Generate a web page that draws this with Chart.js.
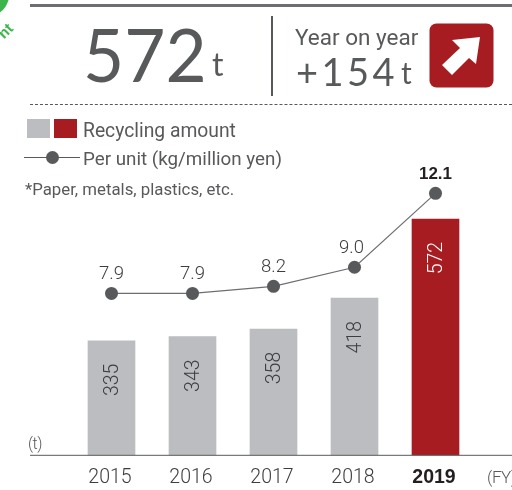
<!DOCTYPE html>
<html><head><meta charset="utf-8">
<script src="https://cdn.jsdelivr.net/npm/chart.js@4/dist/chart.umd.min.js"></script>
<style>
html,body{margin:0;padding:0;background:#fff;overflow:hidden}
#wrap{position:relative;width:512px;height:490px;overflow:hidden;font-family:"Liberation Sans",sans-serif;color:#58595b}
#wrap canvas{position:absolute;left:0;top:0}
.t{position:absolute;white-space:nowrap;line-height:1}
.b{position:absolute}
</style></head><body>
<div id="wrap">
<canvas id="c" width="512" height="490"></canvas>
<div class="b" style="left:-22px;top:-34px;width:32px;height:48px;border-radius:50%;background:#3cb54a"></div>
<div class="t" style="left:-2px;top:22px;font:bold 15px 'Liberation Sans';color:#3cb54a;transform:rotate(-45deg)">nt</div>
<div class="b" style="left:30px;top:4px;width:482px;height:3px;background:#6d6e71"></div>
<div class="t" style="left:83px;top:9px;font:400 74px Lato;transform-origin:0 0;transform:scaleX(.96)">572</div>
<div class="t" style="left:212px;top:44px;font:400 32px Lato">t</div>
<div class="b" style="left:271px;top:16px;width:2px;height:80px;background:#58595b"></div>
<div class="t" style="left:295px;top:24px;font:400 22.5px Roboto">Year on year</div>
<div class="t" style="left:296px;top:48px;font:400 38px Lato;letter-spacing:3.5px">+154</div>
<div class="t" style="left:401px;top:54px;font:400 30px Lato">t</div>
<svg class="b" style="left:429px;top:23px" width="65" height="65" viewBox="0 0 65 65"><rect x="0.5" y="0.5" width="64" height="64" rx="7" fill="#a61c20"/><path d="M51 14 L23 17 L31 25 L13 42 L23 52 L40 35 L47 41 Z" fill="#fff"/></svg>
<div class="b" style="left:30px;top:104px;width:482px;border-top:1px dashed #58595b"></div>
<div class="b" style="left:27px;top:119px;width:23px;height:19px;background:#bcbdc0"></div>
<div class="b" style="left:54px;top:119px;width:23px;height:19px;background:#a61c20"></div>
<div class="t" style="left:83px;top:119px;font:400 19.3px Roboto">Recycling amount</div>
<div class="b" style="left:24px;top:157px;width:56px;height:1px;background:#58595b"></div>
<div class="b" style="left:46px;top:151px;width:13px;height:13px;border-radius:50%;background:#58595b"></div>
<div class="t" style="left:83px;top:148px;font:400 18.8px Roboto">Per unit (kg/million yen)</div>
<div class="t" style="left:25px;top:179px;font:400 16.8px Roboto">*Paper, metals, plastics, etc.</div>
<div class="t" style="left:28px;top:434px;font:300 16px Roboto;letter-spacing:-.5px">(t)</div>
<div class="t" style="left:487px;top:467px;font:300 17px Roboto;letter-spacing:-.5px">(FY)</div>
</div>
<script>
const categories=['2015','2016','2017','2018','2019'];
const recyclingAmount=[335,343,358,418,572];
const perUnit=[7.9,7.9,8.2,9.0,12.1];
const GREY='#bcbdc0',RED='#a61c20',DARK='#58595b',TEXT='#3d3d3f';
const labels={id:'labels',afterDatasetsDraw(ch){
  const g=ch.ctx,bar=ch.getDatasetMeta(1).data,pt=ch.getDatasetMeta(0).data;
  g.save();g.textAlign='center';g.textBaseline='middle';
  perUnit.forEach((v,i)=>{
    const last=i===perUnit.length-1;
    g.fillStyle=last?'#231f20':TEXT;
    g.font=last?'bold 17px "Liberation Sans"':'300 18.5px Roboto';
    g.fillText(v.toFixed(1),pt[i].x-(i===3?3:0),pt[i].y-19);
  });
  recyclingAmount.forEach((v,i)=>{
    const last=i===recyclingAmount.length-1;
    g.save();g.translate(bar[i].x+2,bar[i].y+39);g.rotate(-Math.PI/2);
    g.fillStyle=last?'#fff':TEXT;g.font='300 19.5px Roboto';
    g.fillText(String(v),0,0);g.restore();
  });
  g.restore();
}};
const axisLine={id:'axisLine',afterDraw(ch){
  const g=ch.ctx,y=ch.scales.x.top;
  g.save();g.strokeStyle=DARK;g.lineWidth=1;g.beginPath();g.moveTo(30,y);g.lineTo(512,y);g.stroke();g.restore();
}};
new Chart(document.getElementById('c'),{
  type:'bar',
  data:{labels:categories,datasets:[
    {type:'line',data:perUnit,yAxisID:'y2',borderColor:'#6d6e71',borderWidth:1.2,pointRadius:6.5,pointHoverRadius:6.5,pointBackgroundColor:DARK,pointBorderColor:DARK,pointBorderWidth:0,tension:0,order:0},
    {type:'bar',data:recyclingAmount,yAxisID:'y',backgroundColor:recyclingAmount.map((_,i)=>i===4?RED:GREY),barThickness:47,order:1}
  ]},
  options:{
    responsive:false,animation:false,
    layout:{padding:{left:71,right:36,top:0,bottom:0}},
    plugins:{legend:{display:false},tooltip:{enabled:false}},
    scales:{
      x:{grid:{display:false},border:{display:false},
        afterFit(s){s.height=34.7;},
        ticks:{padding:3,labelOffset:-1.5,maxRotation:0,autoSkip:false,
          color:ctx=>ctx.index===4?'#231f20':TEXT,
          font:ctx=>({family:ctx.index===4?'Liberation Sans':'Roboto',size:19.5,weight:ctx.index===4?'bold':'300'})}},
      y:{display:false,min:112,max:986,grid:{display:false}},
      y2:{display:false,min:1.11,max:19.94,grid:{display:false}}
    }
  },
  plugins:[labels,axisLine]
});
</script>
</body></html>
